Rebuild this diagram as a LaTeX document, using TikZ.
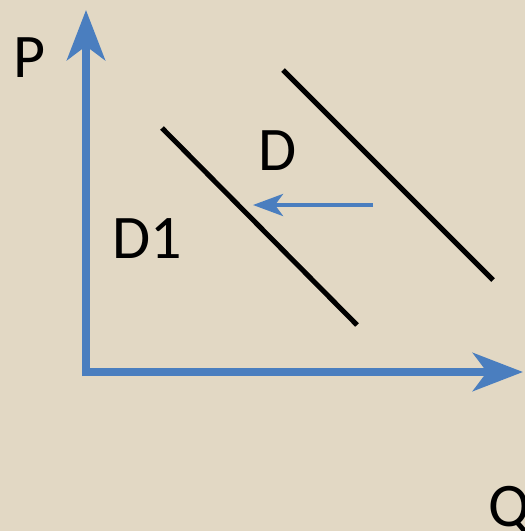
\documentclass[tikz,border=0pt]{standalone}
\usepackage{fontspec}
\setmainfont{Carlito}
\usetikzlibrary{arrows.meta}
\definecolor{bg}{RGB}{226,216,196}
\definecolor{axisblue}{RGB}{74,126,191}
\begin{document}
\begin{tikzpicture}[x=1pt,y=-1pt,
  axis/.style={draw=axisblue,line width=8pt,-{Stealth[length=50pt,width=38pt,inset=14pt]}},
  shiftarrow/.style={draw=axisblue,line width=4pt,-{Stealth[length=30pt,width=22pt,inset=8pt]}},
  curve/.style={draw=black,line width=5pt},
  lbl/.style={inner sep=0pt,anchor=base west,font=\fontsize{62}{62}\selectfont}]
\fill[bg] (0,0) rectangle (525,531);
\useasboundingbox (0,0) rectangle (525,531);
\coordinate (O) at (86,372);
\coordinate (Ptop) at (86,10);
\coordinate (Qend) at (523,372);
\draw[axis] (86,376) -- (Ptop);
\draw[axis] (82,372) -- (Qend);
\coordinate (d1a) at (162,128);
\coordinate (d1b) at (357,325);
\coordinate (da) at (283,70);
\coordinate (db) at (493,280);
\draw[curve] (d1a) -- (d1b);
\draw[curve] (da) -- (db);
\coordinate (sa) at (373,205);
\coordinate (sb) at (253,205);
\draw[shiftarrow] (sa) -- (sb);
\node[lbl] (P) at (13,77) {P};
\node[lbl] (D) at (258,170) {D};
\node[lbl] (D1) at (112,258) {D1};
\node[lbl] (Q) at (488,526) {Q};
\end{tikzpicture}
\end{document}
